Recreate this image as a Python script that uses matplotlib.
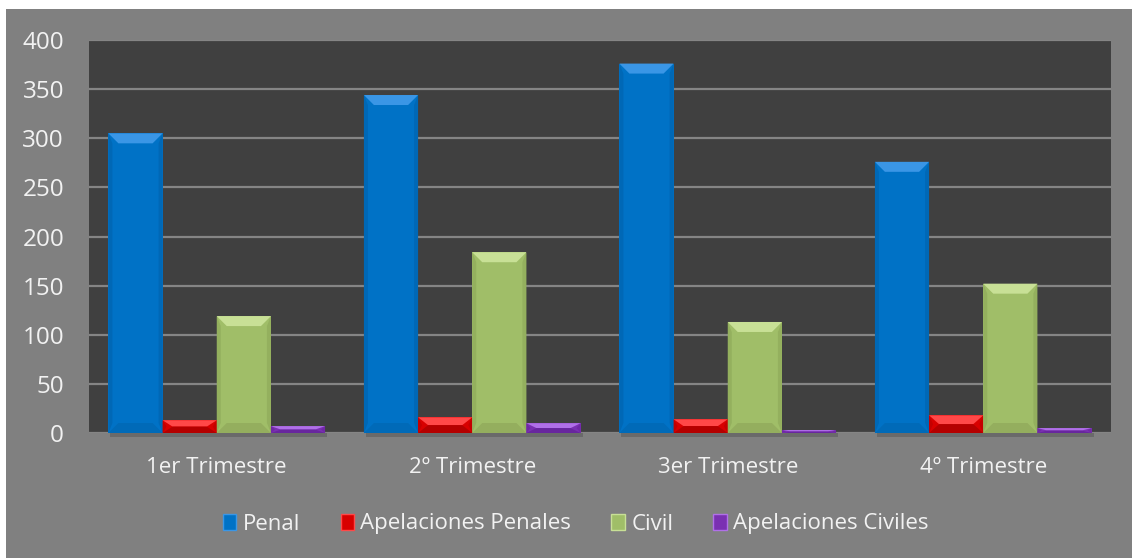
import numpy as np
import matplotlib
matplotlib.use("Agg")
import matplotlib.pyplot as plt
from matplotlib.patches import Polygon, Rectangle, Patch

plt.rcParams['font.family'] = ['Open Sans', 'DejaVu Sans']

trimestres = ['1er Trimestre', '2º Trimestre', '3er Trimestre', '4º Trimestre']
series = ['Penal', 'Apelaciones Penales', 'Civil', 'Apelaciones Civiles']
penal = [305, 344, 376, 276]
apel_penales = [13, 16, 14, 18]
civil = [119, 184, 113, 152]
apel_civiles = [7, 10, 3, 5]

# body, top bevel, side bevel, bottom bevel
colores = [
    ('#0072C6', '#3A96E6', '#0068B6', '#006AB8'),
    ('#D80000', '#FF4848', '#C40000', '#B40000'),
    ('#A0BE68', '#C8E096', '#94B05E', '#94AE5E'),
    ('#7A30B2', '#B070E8', '#7028A6', '#68269E'),
]

fig = plt.figure(figsize=(11.32, 5.58), dpi=100)
fig.patch.set_facecolor('white')
fig.patches.append(Rectangle((6 / 1132, 0), 1, 549 / 558, transform=fig.transFigure,
                             facecolor='#808080', edgecolor='none', zorder=-10))

ax = fig.add_axes([89 / 1132, 125 / 558, 1022 / 1132, 393 / 558])
ax.set_facecolor('#404040')
for s in ax.spines.values():
    s.set_visible(False)

x = np.arange(len(trimestres))
w = 0.212
datos = [penal, apel_penales, civil, apel_civiles]
ax.set_xlim(-0.5, len(trimestres) - 0.5)
ax.set_ylim(0, 400)
ax.set_yticks(np.arange(0, 401, 50))
ax.yaxis.grid(True, color='#858585', linewidth=1.6)
ax.set_axisbelow(True)
ax.tick_params(axis='both', length=0, colors='#F2F2F2')
ax.tick_params(axis='y', labelsize=17.5, pad=18)
ax.tick_params(axis='x', labelsize=16, pad=17)
ax.set_xticks(x)
ax.set_xticklabels(trimestres)

fig.canvas.draw()
toD = ax.transData
inv = toD.inverted()
bev = 10  # bevel in pixels

for i, vals in enumerate(datos):
    body, top, side, bot = colores[i]
    bars = ax.bar(x + (i - 1.5) * w, vals, w, color=body, zorder=3)
    for b in bars:
        (px0, py0) = toD.transform((b.get_x(), 0))
        (px1, py1) = toD.transform((b.get_x() + b.get_width(), b.get_height()))
        bv = min(bev, (py1 - py0) / 2)
        bh = bev
        polys = [
            ([(px0, py1), (px1, py1), (px1 - bh, py1 - bv), (px0 + bh, py1 - bv)], top),
            ([(px0, py0), (px1, py0), (px1 - bh, py0 + bv), (px0 + bh, py0 + bv)], bot),
            ([(px0, py0), (px0 + 4, py0 + bv), (px0 + 4, py1 - bv), (px0, py1)], side),
            ([(px1, py0), (px1 - 4, py0 + bv), (px1 - 4, py1 - bv), (px1, py1)], side),
        ]
        for pts, c in polys:
            ax.add_patch(Polygon(inv.transform(pts), closed=True, facecolor=c,
                                 edgecolor='none', zorder=4))
        # shadow below the bar
        sh = inv.transform([(px0 + 2, py0 - 4), (px1 + 2, py0)])
        ax.add_patch(Rectangle((sh[0][0], sh[0][1]), sh[1][0] - sh[0][0], sh[1][1] - sh[0][1],
                               facecolor='#6a6a6a', edgecolor='none', zorder=2, clip_on=False))

handles = [Patch(facecolor=c[0], edgecolor=c[1], label=s) for s, c in zip(series, colores)]
fig.legend(handles=handles, loc='center', bbox_to_anchor=(576 / 1132, 1 - 524 / 558), ncol=4,
           frameon=False, fontsize=16, labelcolor='#F2F2F2', handlelength=0.6,
           handleheight=0.75, handletextpad=0.3, columnspacing=1.8)

fig.savefig('out.png', dpi=100, facecolor=fig.get_facecolor())
